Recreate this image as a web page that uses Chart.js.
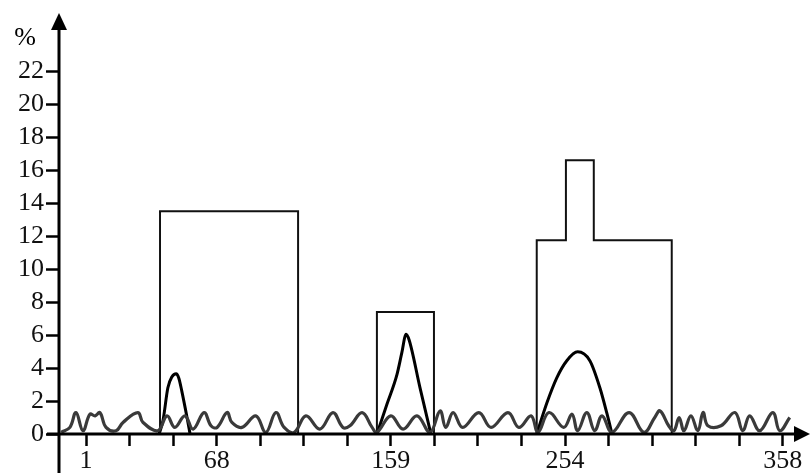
<!DOCTYPE html>
<html>
<head>
    <title>Percent profile</title>
    <style>
        body { margin: 0; background: #fff; }
        #wrap { width: 810px; height: 473px; }
    </style>
</head>
<body>
<div id="wrap"><canvas id="chart" width="810" height="473"></canvas></div>

<script src="https://cdn.jsdelivr.net/npm/chart.js"></script>
<script>
    // x positions are in tick-index units (17 ticks, only some are labelled)
    const tickCount = 17;
    const labelledTicks = [0, 3, 7, 11, 16];
    const labelText = ['1', '68', '159', '254', '358'];
    const yTicks = [0, 2, 4, 6, 8, 10, 12, 14, 16, 18, 20, 22];

    // wavy background series
    const waveX = [-0.57, -0.37, -0.23, -0.07, 0.09, 0.21, 0.32, 0.46, 0.69, 0.85, 1.19, 1.31, 1.65, 1.86, 2.04, 2.27, 2.46,
        2.71, 2.87, 3.01, 3.24, 3.35, 3.58, 3.90, 4.13, 4.36, 4.55, 4.78, 5.05, 5.37, 5.67, 5.90, 6.06, 6.34, 6.57, 6.68,
        7.00, 7.28, 7.60, 7.90, 8.13, 8.26, 8.43, 8.65, 9.02, 9.30, 9.69, 9.94, 10.22, 10.38, 10.63, 10.97, 11.16, 11.29,
        11.50, 11.68, 11.85, 12.08, 12.47, 12.81, 13.06, 13.18, 13.38, 13.50, 13.62, 13.73, 13.89, 14.05, 14.17, 14.28,
        14.58, 14.90, 15.08, 15.24, 15.47, 15.77, 15.93, 16.16];
    const waveY = [0.1, 0.4, 1.3, 0.2, 1.2, 1.1, 1.3, 0.4, 0.2, 0.7, 1.3, 0.7, 0.2, 1.1, 0.4, 1.1, 0.3,
        1.3, 0.5, 0.4, 1.3, 0.7, 0.4, 1.1, 0.1, 1.3, 0.4, 0.1, 1.1, 0.3, 1.3, 0.4, 0.5, 1.3, 0.4, 0.1,
        1.1, 0.3, 1.1, 0.1, 1.4, 0.4, 1.3, 0.4, 1.3, 0.4, 1.3, 0.4, 1.1, 0.1, 1.3, 0.4, 1.2, 0.2,
        1.3, 0.2, 1.1, 0.1, 1.3, 0.1, 1.0, 1.4, 0.5, 0.2, 1.0, 0.2, 1.1, 0.2, 1.3, 0.5,
        0.5, 1.3, 0.2, 1.1, 0.2, 1.3, 0.2, 1.0];

    // outlined blocks
    const boxAX = [1.70, 1.70, 4.87, 4.87];
    const boxAY = [0, 13.5, 13.5, 0];
    const boxBX = [6.68, 6.68, 7.99, 7.99];
    const boxBY = [0, 7.4, 7.4, 0];
    const boxCX = [10.35, 10.35, 11.02, 11.02, 11.66, 11.66, 13.45, 13.45];
    const boxCY = [0, 11.75, 11.75, 16.6, 16.6, 11.75, 11.75, 0];

    // peaks
    const peakAX = [1.68, 1.77, 1.88, 1.97, 2.07, 2.13, 2.20, 2.32, 2.39];
    const peakAY = [0, 0.85, 2.8, 3.45, 3.65, 3.4, 2.6, 1.0, 0];
    const peakBX = [6.68, 6.91, 7.14, 7.25, 7.35, 7.42, 7.67, 7.92];
    const peakBY = [0, 1.8, 3.6, 4.9, 6.05, 5.7, 2.8, 0];
    const peakCX = [10.35, 10.58, 10.81, 11.04, 11.29, 11.57, 11.80, 11.96, 12.08];
    const peakCY = [0, 1.86, 3.4, 4.44, 4.98, 4.44, 2.8, 1.26, 0];

    const pts = (xs, ys) => xs.map((x, i) => ({ x: x, y: ys[i] }));
    const serif = "'Liberation Serif', 'Times New Roman', serif";

    const box = (xs, ys) => ({
        data: pts(xs, ys), borderColor: '#111', borderWidth: 2, pointRadius: 0, tension: 0, fill: false
    });
    const peak = (xs, ys) => ({
        data: pts(xs, ys), borderColor: '#000', borderWidth: 3, pointRadius: 0,
        cubicInterpolationMode: 'monotone', fill: false
    });

    // axis lines with arrow heads and the % unit
    const axesPlugin = {
        id: 'axes',
        afterDatasetsDraw(chart) {
            const ctx = chart.ctx;
            const ax = chart.scales.x.left;
            const ay = chart.scales.y.getPixelForValue(0);
            ctx.save();
            ctx.strokeStyle = '#000';
            ctx.fillStyle = '#000';
            ctx.lineWidth = 3;
            ctx.beginPath();
            ctx.moveTo(ax, 28); ctx.lineTo(ax, 473);
            ctx.moveTo(47, ay); ctx.lineTo(796, ay);
            ctx.stroke();
            ctx.beginPath();
            ctx.moveTo(ax, 13); ctx.lineTo(ax - 8, 30); ctx.lineTo(ax + 8, 30); ctx.closePath();
            ctx.fill();
            ctx.beginPath();
            ctx.moveTo(810, ay); ctx.lineTo(794, ay - 8); ctx.lineTo(794, ay + 8); ctx.closePath();
            ctx.fill();
            ctx.font = '26px ' + serif;
            ctx.textAlign = 'center';
            ctx.textBaseline = 'middle';
            ctx.fillText('%', 25, 38);
            ctx.restore();
        }
    };

    new Chart(document.getElementById('chart'), {
        type: 'line',
        data: {
            datasets: [
                { data: pts(waveX, waveY), borderColor: '#3a3a3a', borderWidth: 3.2, pointRadius: 0,
                  tension: 0.4, fill: false },
                box(boxAX, boxAY), box(boxBX, boxBY), box(boxCX, boxCY),
                peak(peakAX, peakAY), peak(peakBX, peakBY), peak(peakCX, peakCY)
            ]
        },
        options: {
            responsive: false,
            devicePixelRatio: 1,
            animation: false,
            layout: { padding: { top: 13, right: 5, left: 0, bottom: 0 } },
            plugins: { legend: { display: false }, tooltip: { enabled: false } },
            scales: {
                x: {
                    type: 'linear',
                    min: -0.62,
                    max: 16.51,
                    border: { display: false },
                    grid: { drawOnChartArea: false, drawTicks: true, tickLength: 12, tickColor: '#000', tickWidth: 2.5 },
                    afterBuildTicks: s => { s.ticks = Array.from({ length: tickCount }, (_, i) => ({ value: i })); },
                    afterFit: s => { s.height = 39; },
                    ticks: {
                        autoSkip: false, maxRotation: 0, minRotation: 0, padding: 0,
                        color: '#111', font: { family: serif, size: 26 },
                        callback: v => {
                            const k = labelledTicks.indexOf(v);
                            return k >= 0 ? labelText[k] : '';
                        }
                    }
                },
                y: {
                    min: 0,
                    max: 25.24,
                    border: { display: false },
                    grid: { drawOnChartArea: false, drawTicks: true, tickLength: 13, tickColor: '#000', tickWidth: 2.5 },
                    afterBuildTicks: s => { s.ticks = yTicks.map(v => ({ value: v })); },
                    afterFit: s => { s.width = 59; },
                    ticks: { padding: 2, color: '#111', font: { family: serif, size: 26 } }
                }
            }
        },
        plugins: [axesPlugin]
    });
</script>
</body>
</html>
